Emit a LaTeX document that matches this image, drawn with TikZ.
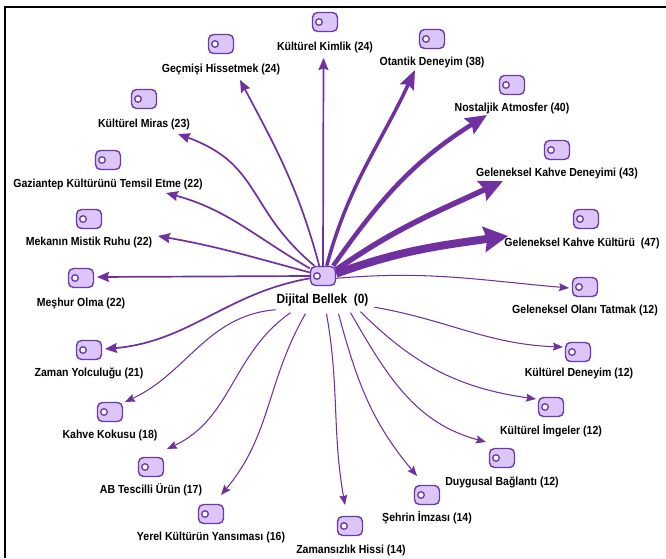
\documentclass[tikz,border=0pt]{standalone}
\usepackage{fontspec}
\setmainfont{Liberation Sans}[FakeStretch=0.9]
\usetikzlibrary{arrows.meta}
\definecolor{edgec}{HTML}{7030A0}
\definecolor{tagfill}{HTML}{DCC6F8}
\definecolor{tagline}{HTML}{6A3AA6}
\begin{document}
\begin{tikzpicture}[x=1pt,y=1pt]
\tikzset{
  tagicon/.style={draw=tagline, fill=tagfill, line width=1.4pt, rounded corners=5pt,
    minimum width=25pt, minimum height=19pt, inner sep=0pt,
    path picture={\draw[tagline, fill=white, line width=1.3pt] ([xshift=-6pt]path picture bounding box.center) circle (3.3pt);}},
  lbl/.style={font=\bfseries\fontsize{11.7}{13}\selectfont, text=black, inner sep=0pt, text height=8.5pt, text depth=2.2pt},
  biglbl/.style={font=\bfseries\fontsize{13.2}{15}\selectfont, text=black, inner sep=0pt, text height=9.5pt, text depth=2.5pt},
  medarr/.style={draw=edgec, line width=1.7pt, -{Stealth[length=12pt,width=10pt,inset=1.5pt]}},
  thinarr/.style={draw=edgec, line width=1.05pt, -{Stealth[length=10pt,width=8pt,inset=1.5pt]}},
  odarr/.style={draw=edgec, line width=3.5pt, -{Stealth[length=19pt,width=15pt,inset=3pt]}},
  naarr/.style={draw=edgec, line width=4.5pt, -{Stealth[length=21pt,width=18pt,inset=3pt]}},
  gkdarr/.style={draw=edgec, line width=5.5pt, -{Stealth[length=23pt,width=21pt,inset=3pt]}},
  gkkarr/.style={draw=edgec, line width=8pt, -{Stealth[length=24pt,width=25pt,inset=3pt]}},
}
\useasboundingbox (0,0) rectangle (666,558);
\draw[line width=2.6pt, black] (5,0) -- (5,551) -- (666,551);

% centre
\node[tagicon] (c) at (323,282) {};
\node[biglbl] (c-l) at (322.5,258) {Dijital Bellek\ \ (0)};

% targets
\node[tagicon] (kk) at (325,536) {};  \node[lbl] (kk-l) at (325,511) {Kültürel Kimlik (24)};
\node[tagicon] (gh) at (221,514) {};  \node[lbl] (gh-l) at (221,489) {Geçmişi Hissetmek (24)};
\node[tagicon] (km) at (144,459) {};  \node[lbl] (km-l) at (144,434) {Kültürel Miras (23)};
\node[tagicon] (gz) at (108,398) {};  \node[lbl] (gz-l) at (108,374) {Gaziantep Kültürünü Temsil Etme (22)};
\node[tagicon] (mm) at (89,339) {};   \node[lbl] (mm-l) at (89,316) {Mekanın Mistik Ruhu (22)};
\node[tagicon] (mo) at (81,280) {};   \node[lbl] (mo-l) at (81,255) {Meşhur Olma (22)};
\node[tagicon] (zy) at (89,208) {};   \node[lbl] (zy-l) at (89,185) {Zaman Yolculuğu (21)};
\node[tagicon] (kko) at (110,146) {}; \node[lbl] (kko-l) at (110,123) {Kahve Kokusu (18)};
\node[tagicon] (ab) at (151,91) {};   \node[lbl] (ab-l) at (151,68) {AB Tescilli Ürün (17)};
\node[tagicon] (yk) at (211,44) {};   \node[lbl] (yk-l) at (211,21) {Yerel Kültürün Yansıması (16)};
\node[tagicon] (zh) at (350,32) {};   \node[lbl] (zh-l) at (351,8) {Zamansızlık Hissi (14)};
\node[tagicon] (si) at (427,63) {};   \node[lbl] (si-l) at (427,40) {Şehrin İmzası (14)};
\node[tagicon] (db) at (502,100) {};  \node[lbl] (db-l) at (502,76) {Duygusal Bağlantı (12)};
\node[tagicon] (ki) at (551,151) {};  \node[lbl] (ki-l) at (551,127) {Kültürel İmgeler (12)};
\node[tagicon] (kd) at (578,206) {};  \node[lbl] (kd-l) at (579,185) {Kültürel Deneyim (12)};
\node[tagicon] (got) at (585,271) {}; \node[lbl] (got-l) at (585,248) {Geleneksel Olanı Tatmak (12)};
\node[tagicon] (gkk) at (586,339) {}; \node[lbl] (gkk-l) at (582,315) {Geleneksel Kahve Kültürü\ \ (47)};
\node[tagicon] (gkd) at (557,408) {}; \node[lbl] (gkd-l) at (557,385) {Geleneksel Kahve Deneyimi (43)};
\node[tagicon] (na) at (512,473) {};  \node[lbl] (na-l) at (512,450) {Nostaljik Atmosfer (40)};
\node[tagicon] (od) at (432,519) {};  \node[lbl] (od-l) at (432,496) {Otantik Deneyim (38)};

% arrow tips
\coordinate (t-kk) at (323.5,500);
\coordinate (t-gh) at (240,478);
\coordinate (t-km) at (178,424);
\coordinate (t-gz) at (166,365);
\coordinate (t-mm) at (158,322);
\coordinate (t-mo) at (97,281);
\coordinate (t-zy) at (105,209);
\coordinate (t-kko) at (125,156);
\coordinate (t-ab) at (167,109);
\coordinate (t-yk) at (221,63);
\coordinate (t-zh) at (345,53);
\coordinate (t-si) at (417,82);
\coordinate (t-db) at (486,116);
\coordinate (t-ki) at (536,159);
\coordinate (t-kd) at (563,211);
\coordinate (t-got) at (569,270);
\coordinate (t-gkk) at (508,322);
\coordinate (t-gkd) at (503,377);
\coordinate (t-na) at (487,443);
\coordinate (t-od) at (415,488);

% upper / left edges
\draw[medarr] (c.north) -- (t-kk);
\draw[medarr] (c.110) to[out=105,in=-62,looseness=1.0] (t-gh);
\draw[medarr] (c.130) to[out=140,in=-20,looseness=1.2] (t-km);
\draw[medarr] (c.150) to[out=150,in=-15] (t-gz);
\draw[medarr] (c.165) to[out=165,in=-10] (t-mm);
\draw[medarr] (c.west) -- (t-mo);
\draw[medarr] (c.190) to[out=190,in=5] (t-zy);

% lower edges from the label
\draw[thinarr] ([xshift=-47pt,yshift=-3.5pt]c-l.south) to[out=185,in=25] (t-kko);
\draw[thinarr] ([xshift=-32pt,yshift=-6.5pt]c-l.south) to[out=215,in=25] (t-ab);
\draw[thinarr] ([xshift=-17pt,yshift=-7.5pt]c-l.south) to[out=240,in=50] (t-yk);
\draw[thinarr] ([xshift=4pt,yshift=-7.5pt]c-l.south) to[out=-80,in=100] (t-zh);
\draw[thinarr] ([xshift=16pt,yshift=-7.5pt]c-l.south) to[out=-75,in=130] (t-si);
\draw[thinarr] ([xshift=28pt,yshift=-6.5pt]c-l.south) to[out=-60,in=165] (t-db);
\draw[thinarr] ([xshift=38pt,yshift=-5.5pt]c-l.south) to[out=-45,in=172] (t-ki);
\draw[thinarr] ([xshift=52pt,yshift=-1pt]c-l.south) to[out=-10,in=178] (t-kd);
\draw[thinarr] (c.-10) to[out=5,in=175] (t-got);

% thick edges
\draw[odarr] (c.70) to[out=75,in=-115] (t-od);
\draw[naarr] (c.45) to[out=55,in=212] (t-na);
\draw[gkdarr] (c.25) to[out=35,in=205] (t-gkd);
\draw[gkkarr] (c.10) to[out=20,in=188] (t-gkk);
\end{tikzpicture}
\end{document}
